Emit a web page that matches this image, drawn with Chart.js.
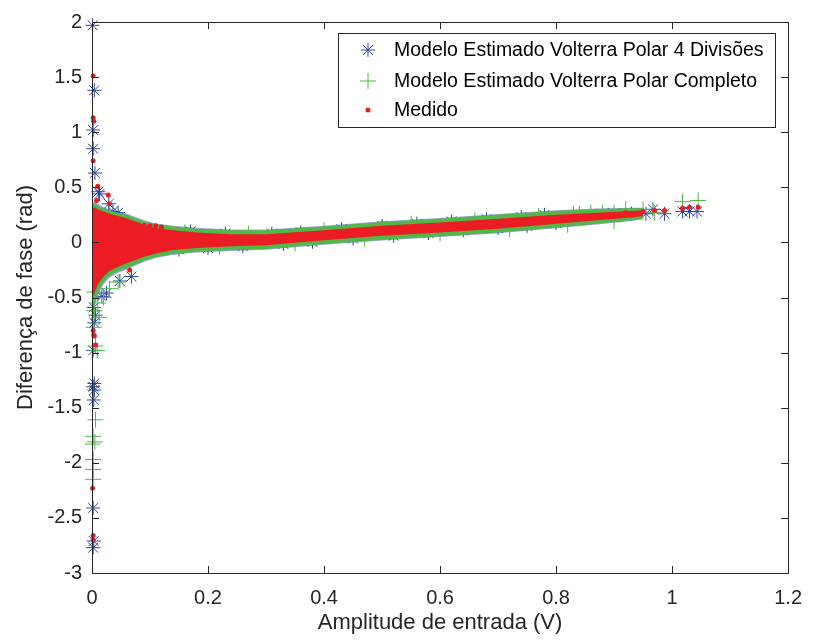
<!DOCTYPE html>
<html>
<head>
<meta charset="utf-8">
<script src="https://cdn.jsdelivr.net/npm/chart.js@4.4.0/dist/chart.umd.min.js"></script>
<style>
  html, body { margin: 0; padding: 0; background: #fff; }
  #wrap { width: 815px; height: 641px; position: relative; }
</style>
</head>
<body>
<div id="wrap"><canvas id="phaseChart"></canvas></div>
<script>
// series names (legend)
const seriesNames = [
  "Modelo Estimado Volterra Polar 4 Divisões",
  "Modelo Estimado Volterra Polar Completo",
  "Medido"
];

// axis ticks
const xTicks = [0, 0.2, 0.4, 0.6, 0.8, 1, 1.2];
const xTickLabels = ["0", "0.2", "0.4", "0.6", "0.8", "1", "1.2"];
const yTicks = [-3, -2.5, -2, -1.5, -1, -0.5, 0, 0.5, 1, 1.5, 2];
const yTickLabels = ["-3", "-2.5", "-2", "-1.5", "-1", "-0.5", "0", "0.5", "1", "1.5", "2"];

// dense cloud of points, read as upper / lower edges of each series
const bandX      = [0.001, 0.005, 0.01, 0.02, 0.03, 0.045, 0.06, 0.075, 0.09, 0.11, 0.14, 0.18, 0.24, 0.3, 0.4, 0.5, 0.6, 0.7, 0.8, 0.87, 0.93, 0.95];
const blueUpper  = [0.36, 0.37, 0.35, 0.32, 0.30, 0.28, 0.26, 0.23, 0.2, 0.172, 0.152, 0.132, 0.117, 0.117, 0.152, 0.192, 0.222, 0.257, 0.292, 0.307, 0.315, 0.315];
const blueLower  = [-0.63, -0.58, -0.48, -0.38, -0.32, -0.275, -0.245, -0.21, -0.175, -0.142, -0.112, -0.092, -0.077, -0.067, -0.022, 0.018, 0.048, 0.083, 0.128, 0.163, 0.195, 0.21];
const greenUpper = [0.34, 0.35, 0.33, 0.31, 0.29, 0.27, 0.25, 0.22, 0.19, 0.165, 0.145, 0.125, 0.11, 0.11, 0.145, 0.185, 0.215, 0.25, 0.285, 0.30, 0.31, 0.31];
const greenLower = [-0.60, -0.55, -0.45, -0.36, -0.30, -0.26, -0.23, -0.20, -0.165, -0.135, -0.105, -0.085, -0.07, -0.06, -0.015, 0.025, 0.055, 0.09, 0.135, 0.17, 0.20, 0.215];
const redUpper   = [0.31, 0.32, 0.30, 0.28, 0.26, 0.24, 0.22, 0.19, 0.155, 0.13, 0.11, 0.09, 0.075, 0.075, 0.11, 0.15, 0.18, 0.215, 0.25, 0.27, 0.285, 0.29];
const redLower   = [-0.50, -0.45, -0.38, -0.31, -0.26, -0.22, -0.19, -0.16, -0.13, -0.10, -0.07, -0.05, -0.035, -0.025, 0.02, 0.06, 0.09, 0.125, 0.17, 0.20, 0.225, 0.24];

// single points: outliers plus the ragged edges of the cloud
const blueX = [0.001, 0.004, 0.002, 0.002, 0.005, 0.011, 0.013, 0.029, 0.036, 0.045, 0.068, 0.003, 0.006, 0.004, 0.017, 0.025, 0.048, 0.002, 0.004, 0.002, 0.004, 0.003, 0.002, 0.003, 0.002,
  0.15, 0.2, 0.26, 0.33, 0.38, 0.45, 0.52, 0.58, 0.64, 0.7, 0.75, 0.8,
  0.17, 0.23, 0.31, 0.36, 0.43, 0.5, 0.56, 0.62, 0.68, 0.74, 0.78,
  0.85, 0.87, 0.89, 0.91, 0.93, 0.955, 0.967, 0.987, 1.018, 1.03, 1.043];
const blueY = [1.97, 1.38, 1.02, 0.85, 0.63, 0.46, 0.44, 0.35, 0.28, 0.27, -0.31, -0.59, -0.66, -0.73, -0.49, -0.46, -0.35, -0.98, -1.28, -1.31, -1.34, -1.43, -2.41, -2.71, -2.77,
  -0.065, -0.05, -0.035, -0.015, 0.005, 0.035, 0.06, 0.085, 0.11, 0.13, 0.15, 0.175,
  0.10, 0.08, 0.08, 0.09, 0.12, 0.15, 0.17, 0.19, 0.21, 0.23, 0.25,
  0.22, 0.24, 0.25, 0.25, 0.26, 0.26, 0.30, 0.26, 0.28, 0.28, 0.28];
const greenX = [0.004, 0.003, 0.006, 0.009, 0.006, 0.002, 0.005, 0.001, 0.002, 0.002, 0.002, 0.01, 0.02, 0.03, 0.045, 0.004, 0.012,
  0.16, 0.27, 0.4, 0.55, 0.66, 0.77, 0.84, 0.88,
  0.22, 0.35, 0.47, 0.6, 0.72, 0.82, 0.9,
  0.83, 0.86, 0.9, 0.92, 0.95, 0.97, 1.018, 1.045];
const greenY = [-0.62, -0.77, -0.94, -0.98, -1.61, -1.76, -1.81, -1.83, -1.97, -2.06, -2.15, -0.55, -0.5, -0.42, -0.36, -0.45, -0.68,
  0.09, 0.08, 0.11, 0.17, 0.20, 0.24, 0.26, 0.27,
  -0.04, -0.01, 0.03, 0.08, 0.12, 0.16, 0.19,
  0.26, 0.27, 0.27, 0.30, 0.30, 0.27, 0.37, 0.38];
const redX = [0.002, 0.002, 0.003, 0.002, 0.01, 0.028, 0.008, 0.03, 0.065, 0.002, 0.003, 0.004, 0.006, 0.001, 0.002, 0.002, 0.08, 0.09, 0.1, 0.11, 0.12, 0.92, 0.95, 0.97, 0.987, 1.018, 1.03, 1.045];
const redY = [1.51, 1.13, 1.10, 0.74, 0.51, 0.43, 0.38, 0.35, -0.25, -0.80, -0.84, -0.85, -0.93, -2.23, -2.66, -2.70, 0.16, 0.155, 0.15, 0.15, 0.14, 0.27, 0.28, 0.29, 0.29, 0.31, 0.32, 0.32];

const blue = "#2b48a6";
const green = "#52b848";
const red = "#ec1c24";
const axisColor = "#262626";
const fontFamily = "'Liberation Sans', Arial, sans-serif";

function pts(xs, ys) {
  return xs.map((x, i) => ({ x: x, y: ys[i] }));
}

function band(ys, color, order, fill) {
  return {
    type: "line",
    data: pts(bandX, ys),
    borderWidth: 0,
    borderColor: "rgba(0,0,0,0)",
    backgroundColor: color,
    pointRadius: 0,
    tension: 0,
    fill: fill,
    order: order
  };
}

// MATLAB style box with inward ticks on all sides
const axesBox = {
  id: "axesBox",
  afterDatasetsDraw(chart) {
    const ctx = chart.ctx;
    const a = chart.chartArea;
    const xs = chart.scales.x, ys = chart.scales.y;
    const len = 7;
    ctx.save();
    ctx.strokeStyle = axisColor;
    ctx.lineWidth = 1;
    ctx.strokeRect(Math.round(a.left) + 0.5, Math.round(a.top) + 0.5, Math.round(a.right - a.left), Math.round(a.bottom - a.top));
    ctx.beginPath();
    xTicks.forEach(v => {
      const px = Math.round(xs.getPixelForValue(v)) + 0.5;
      ctx.moveTo(px, a.bottom); ctx.lineTo(px, a.bottom - len);
      ctx.moveTo(px, a.top); ctx.lineTo(px, a.top + len);
    });
    yTicks.forEach(v => {
      const py = Math.round(ys.getPixelForValue(v)) + 0.5;
      ctx.moveTo(a.left, py); ctx.lineTo(a.left + len, py);
      ctx.moveTo(a.right, py); ctx.lineTo(a.right - len, py);
    });
    ctx.stroke();
    ctx.restore();
  }
};

// legend box in the upper right of the axes
const legendBox = {
  id: "legendBox",
  afterDraw(chart) {
    const ctx = chart.ctx;
    const box = { x: 338.5, y: 33.5, w: 437, h: 94 };
    const rows = [50, 81, 110];
    const styles = [
      { pointStyle: "star", radius: 7, borderWidth: 1 },
      { pointStyle: "cross", radius: 8, borderWidth: 1 },
      { pointStyle: "circle", radius: 2.5, borderWidth: 0 }
    ];
    const colors = [blue, green, red];
    ctx.save();
    ctx.fillStyle = "#fff";
    ctx.fillRect(box.x, box.y, box.w, box.h);
    ctx.strokeStyle = axisColor;
    ctx.lineWidth = 1;
    ctx.strokeRect(box.x, box.y, box.w, box.h);
    rows.forEach((y, i) => {
      ctx.strokeStyle = colors[i];
      ctx.fillStyle = colors[i];
      ctx.lineWidth = styles[i].borderWidth || 1;
      Chart.helpers.drawPoint(ctx, { pointStyle: styles[i].pointStyle, radius: styles[i].radius, rotation: 0, borderWidth: styles[i].borderWidth }, 368, y);
      ctx.fillStyle = "#000";
      ctx.font = "19.5px " + fontFamily;
      ctx.textBaseline = "middle";
      ctx.textAlign = "left";
      ctx.fillText(seriesNames[i], 394, y + 1);
    });
    ctx.restore();
  }
};

const ctx = document.getElementById("phaseChart").getContext("2d");
const chart = new Chart(ctx, {
  type: "scatter",
  data: {
    datasets: [
      // blue cloud (0,1) and markers (2)
      band(blueUpper, "rgba(43,72,166,0.5)", 6, "+1"),
      band(blueLower, "rgba(0,0,0,0)", 6, false),
      {
        label: seriesNames[0],
        data: pts(blueX, blueY),
        pointStyle: "star",
        pointRadius: 7,
        borderWidth: 1,
        borderColor: blue,
        backgroundColor: blue,
        clip: 12,
        order: 5
      },
      // green cloud (3,4) and markers (5)
      band(greenUpper, green, 4, "+1"),
      band(greenLower, "rgba(0,0,0,0)", 4, false),
      {
        label: seriesNames[1],
        data: pts(greenX, greenY),
        pointStyle: "cross",
        pointRadius: 8,
        borderWidth: 1,
        borderColor: green,
        backgroundColor: green,
        clip: 12,
        order: 3
      },
      // red cloud (6,7) and markers (8)
      band(redUpper, red, 2, "+1"),
      band(redLower, "rgba(0,0,0,0)", 2, false),
      {
        label: seriesNames[2],
        data: pts(redX, redY),
        pointStyle: "circle",
        pointRadius: 2.5,
        borderWidth: 0,
        borderColor: red,
        backgroundColor: red,
        clip: 12,
        order: 1
      }
    ]
  },
  options: {
    responsive: true,
    maintainAspectRatio: false,
    animation: false,
    layout: { padding: { left: 0, top: 17, right: 18, bottom: 0 } },
    plugins: {
      legend: { display: false },
      tooltip: { enabled: false }
    },
    scales: {
      x: {
        type: "linear",
        min: 0,
        max: 1.2,
        afterBuildTicks: (scale) => { scale.ticks = xTicks.map(v => ({ value: v })); },
        afterFit: (scale) => { scale.height = 68; },
        grid: { display: false, drawTicks: false },
        border: { display: false },
        ticks: {
          autoSkip: false,
          maxRotation: 0,
          padding: 13,
          color: axisColor,
          font: { family: fontFamily, size: 20 },
          callback: (v, i) => xTickLabels[i]
        },
        title: {
          display: true,
          text: "Amplitude de entrada (V)",
          color: axisColor,
          font: { family: fontFamily, size: 22 },
          padding: { top: 0, bottom: 5 }
        }
      },
      y: {
        type: "linear",
        min: -3,
        max: 2,
        afterBuildTicks: (scale) => { scale.ticks = yTicks.map(v => ({ value: v })); },
        afterFit: (scale) => { scale.width = 92; },
        grid: { display: false, drawTicks: false },
        border: { display: false },
        ticks: {
          autoSkip: false,
          padding: 10,
          color: axisColor,
          font: { family: fontFamily, size: 20 },
          callback: (v, i) => yTickLabels[i]
        },
        title: {
          display: true,
          text: "Diferença de fase (rad)",
          color: axisColor,
          font: { family: fontFamily, size: 22 },
          padding: { top: 13, bottom: 0 }
        }
      }
    }
  },
  plugins: [axesBox, legendBox]
});
</script>
</body>
</html>
